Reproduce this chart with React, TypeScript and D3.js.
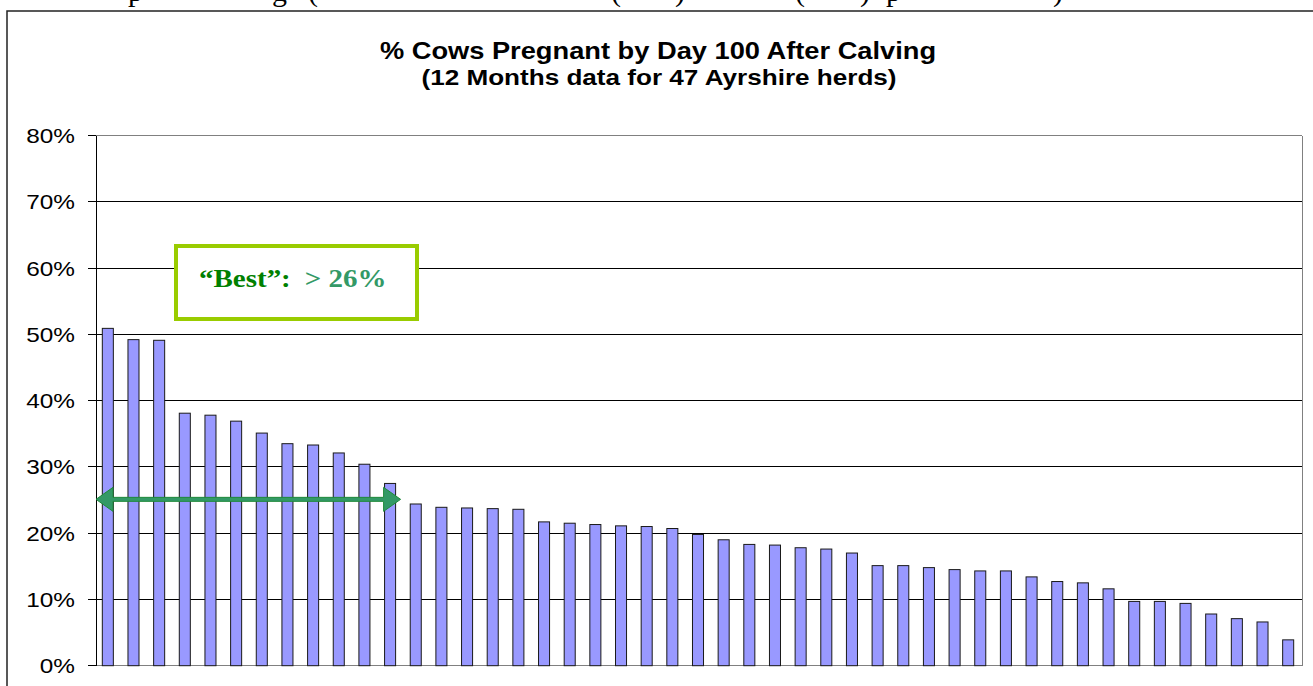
import React from "react";
import * as d3 from "d3";

const herdIds: string[] = [
  "H1","H2","H3","H4","H5","H6","H7","H8","H9","H10","H11","H12","H13","H14","H15","H16",
  "H17","H18","H19","H20","H21","H22","H23","H24","H25","H26","H27","H28","H29","H30","H31",
  "H32","H33","H34","H35","H36","H37","H38","H39","H40","H41","H42","H43","H44","H45","H46","H47",
];

const pctPregnant: number[] = [
  50.9, 49.2, 49.1, 38.1, 37.8, 36.9, 35.1, 33.5, 33.3, 32.1, 30.4, 27.5,
  24.4, 23.9, 23.8, 23.7, 23.6, 21.7, 21.5, 21.3, 21.1, 21.0, 20.7, 19.8,
  19.0, 18.3, 18.2, 17.8, 17.6, 17.0, 15.1, 15.1, 14.8, 14.5, 14.3, 14.3,
  13.4, 12.7, 12.5, 11.6, 9.7, 9.7, 9.4, 7.8, 7.1, 6.6, 3.9,
];

const yTicks: number[] = [0, 10, 20, 30, 40, 50, 60, 70, 80];

const titleText = "% Cows Pregnant by Day 100 After Calving";
const subtitleText = "(12 Months data for 47 Ayrshire herds)";
const bestLabel = "\u201CBest\u201D:";
const bestValue = "> 26%";
const bestCount = 12;
const arrowLevel = 25.1;

// clipped glyphs of the document line above the chart
const clippedGlyphs: { ch: string; x: number }[] = [
  { ch: "p", x: 128 }, { ch: "g", x: 272 }, { ch: "(", x: 308 },
  { ch: "(", x: 611 }, { ch: ")", x: 675 }, { ch: "(", x: 795 },
  { ch: ")", x: 860 }, { ch: "p", x: 886 }, { ch: ")", x: 1053 },
];

const SX = 1.16; // horizontal stretch of the source picture's text
const sans = "Arial, 'Liberation Sans', sans-serif";
const serif = "'Liberation Serif', 'Times New Roman', serif";

export default function App() {
  const W = 1313, H = 686;
  const plotL = 96, plotR = 1302, plotT = 135.5, plotB = 665.7;

  const x = d3.scaleBand<string>().domain(herdIds).range([95, 1301])
    .paddingInner(0.57).paddingOuter(0.285);
  const y = d3.scaleLinear().domain([0, 80]).range([plotB, plotT]);

  const ay = y(arrowLevel);
  const ax0 = plotL;
  const ax1 = (x(herdIds[bestCount - 1]) ?? 0) + x.bandwidth() + 5;
  const hl = 17, hh = 12, st = 2;
  const arrowPath = d3.path();
  arrowPath.moveTo(ax0, ay);
  arrowPath.lineTo(ax0 + hl, ay - hh);
  arrowPath.lineTo(ax0 + hl, ay - st);
  arrowPath.lineTo(ax1 - hl, ay - st);
  arrowPath.lineTo(ax1 - hl, ay - hh);
  arrowPath.lineTo(ax1, ay);
  arrowPath.lineTo(ax1 - hl, ay + hh);
  arrowPath.lineTo(ax1 - hl, ay + st);
  arrowPath.lineTo(ax0 + hl, ay + st);
  arrowPath.lineTo(ax0 + hl, ay + hh);
  arrowPath.closePath();

  return (
    <svg width={W} height={H} style={{ position: "fixed", left: 0, top: 0, background: "#fff" }}>
      <rect x={0} y={0} width={W} height={H} fill="#fff" />
      {clippedGlyphs.map((g, i) => (
        <text key={i} x={g.x} y={1} fontFamily={serif} fontSize={30} fill="#000">{g.ch}</text>
      ))}
      {/* chart frame */}
      <path d={`M7,${H + 5} L7,11 L${W + 5},11`} fill="none" stroke="#222" strokeWidth={1.5} />

      <g transform={`translate(658,59) scale(${SX},1)`}>
        <text x={0} y={0} textAnchor="middle" fontFamily={sans} fontWeight="bold" fontSize={23.5}>{titleText}</text>
      </g>
      <g transform={`translate(659,85) scale(${SX},1)`}>
        <text x={0} y={0} textAnchor="middle" fontFamily={sans} fontWeight="bold" fontSize={22.5}>{subtitleText}</text>
      </g>

      {/* gridlines */}
      {yTicks.map((t) => (
        <line key={t} x1={88} x2={plotR} y1={y(t)} y2={y(t)}
          stroke={t === 0 || t === 80 ? "#808080" : "#000"} strokeWidth={1} shapeRendering="crispEdges" />
      ))}
      {yTicks.map((t) => (
        <line key={"tk" + t} x1={88} x2={plotL} y1={y(t)} y2={y(t)} stroke="#000" strokeWidth={1} shapeRendering="crispEdges" />
      ))}
      <line x1={plotR} x2={plotR} y1={plotT} y2={plotB} stroke="#808080" strokeWidth={1} shapeRendering="crispEdges" />
      <line x1={plotL} x2={plotL} y1={plotT} y2={plotB} stroke="#000" strokeWidth={1} shapeRendering="crispEdges" />

      {yTicks.map((t) => (
        <g key={"l" + t} transform={`translate(75,${y(t)}) scale(${SX},1)`}>
          <text x={0} y={0} dy="0.36em" textAnchor="end" fontFamily={sans} fontSize={21} fill="#000">{`${t}%`}</text>
        </g>
      ))}

      {/* bars */}
      {pctPregnant.map((v, i) => (
        <rect key={herdIds[i]} x={x(herdIds[i])} y={y(v)} width={x.bandwidth()} height={plotB - y(v)}
          fill="#9999FF" stroke="#1a1a1a" strokeWidth={1} />
      ))}

      {/* annotation box */}
      <rect x={176} y={246} width={241} height={73} fill="#fff" stroke="#99CC00" strokeWidth={4} />
      <g transform={`translate(199,287) scale(${SX},1)`}>
        <text x={0} y={0} fontFamily={serif} fontWeight="bold" fontSize={25}>
          <tspan fill="#008000">{bestLabel}</tspan>
          <tspan fill="#339966" dx={12}>{bestValue}</tspan>
        </text>
      </g>

      {/* double arrow */}
      <path d={arrowPath.toString()} fill="#339966" stroke="#1f8a3a" strokeWidth={1} />
    </svg>
  );
}
